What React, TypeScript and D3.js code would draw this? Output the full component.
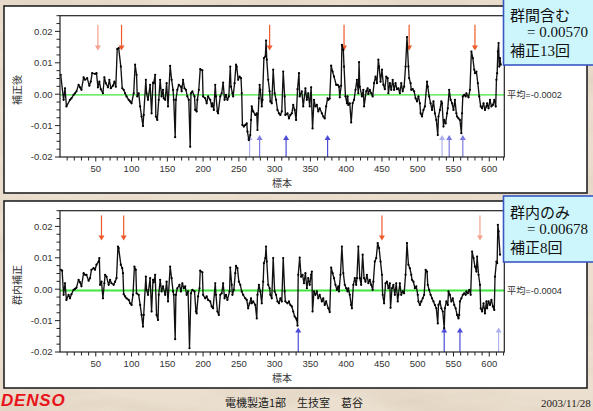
import React from 'react';
import * as d3 from 'd3';

const W = 593;
const H = 411;

// sample number, value in units of 0.001
const topSeries: [number, number][] = [
[1,6.2],[5,-1.8],[7,1.9],[9,-3.9],[14,-1.8],[16,-1.3],[19,-0.2],[21,0.3],[23,0.9],[26,3.0],[28,2.2],[30,1.4],[33,5.4],[35,4.6],[38,5.1],[41,2.7],[43,4.0],[45,6.7],[49,6.5],[51,6.7],[53,2.2],[55,4.0],[57,1.6],[60,0.3],[62,5.4],[64,3.5],[67,2.2],[69,4.6],[71,1.9],[74,2.7],[76,4.0],[78,2.4],[80,14.4],[82,14.7],[85,8.8],[87,1.9],[89,1.4],[91,0.3],[93,-0.7],[96,-1.8],[98,-2.3],[100,-2.9],[103,0.3],[105,9.4],[107,6.2],[108,-0.7],[110,0.3],[112,-3.9],[114,-7.1],[116,-10.1],[117,-6.6],[120,4.6],[121,0.3],[123,-1.8],[126,3.0],[128,-6.1],[130,3.7],[131,3.5],[133,6.2],[134,-7.1],[136,-8.2],[138,-1.8],[140,4.6],[142,-0.7],[144,1.4],[145,-1.3],[147,-1.8],[149,3.5],[151,-3.9],[154,9.0],[156,4.6],[158,1.4],[159,-1.8],[161,-13.7],[162,-1.8],[164,1.4],[166,3.0],[169,2.4],[170,0.9],[172,4.6],[174,1.9],[176,1.4],[178,-0.7],[180,-1.8],[182,-16.7],[183,0.3],[185,0.9],[188,-0.7],[189,-5.0],[191,-5.5],[192,-1.8],[194,1.4],[196,8.0],[199,7.6],[200,-0.7],[203,-1.3],[205,-2.9],[207,-0.7],[210,-1.8],[212,-3.9],[213,-2.9],[215,-5.0],[217,3.0],[218,-0.7],[220,-5.5],[221,-6.1],[224,-0.7],[226,0.3],[228,3.7],[230,-1.8],[232,-0.2],[234,-1.8],[236,-0.7],[238,8.8],[239,2.4],[241,0.3],[242,-0.7],[244,3.5],[246,9.4],[247,8.8],[249,4.6],[251,5.6],[253,5.1],[254,0.3],[255,-9.8],[257,-10.3],[259,-9.8],[261,-9.3],[262,-11.9],[264,-14.6],[266,-13.0],[267,-8.2],[268,-3.9],[270,-5.5],[273,-6.6],[275,-6.1],[276,-11.4],[278,-1.3],[279,3.0],[280,1.4],[282,-3.9],[283,-1.8],[285,11.5],[287,12.0],[288,17.1],[289,11.0],[291,4.6],[293,0.9],[294,-2.3],[296,-2.9],[298,7.8],[300,0.3],[302,-1.8],[304,-5.0],[306,-6.1],[308,-6.6],[310,-5.5],[312,7.2],[314,-0.7],[315,-6.6],[318,-6.1],[320,-7.7],[322,-6.6],[324,-6.1],[326,-3.4],[328,-5.0],[330,-8.2],[332,1.6],[334,6.7],[335,-0.7],[338,0.9],[340,-3.9],[343,1.9],[345,-1.8],[347,0.3],[349,-3.9],[351,2.2],[353,-10.9],[355,-1.8],[357,-3.9],[359,-3.4],[361,-5.5],[363,-4.5],[366,-6.1],[368,-7.1],[370,-7.7],[372,-3.9],[374,-1.3],[375,-1.8],[377,-1.4],[379,9.1],[381,7.2],[383,5.6],[386,3.0],[388,3.0],[390,2.4],[391,-1.0],[393,2.7],[394,15.7],[396,14.1],[397,8.8],[399,-0.7],[401,-2.9],[402,-0.7],[403,-3.4],[405,-2.9],[407,-9.0],[409,-2.9],[411,-1.8],[413,1.4],[415,4.6],[417,0.3],[418,10.2],[419,2.4],[422,-0.7],[424,1.4],[425,-3.9],[428,0.9],[430,1.9],[431,0.1],[433,1.4],[435,0.3],[437,-0.7],[439,3.5],[441,5.6],[443,3.5],[445,11.0],[446,8.8],[448,4.0],[450,7.8],[452,3.0],[454,1.6],[456,5.6],[458,5.1],[459,0.3],[461,3.5],[463,1.4],[465,4.6],[467,1.4],[469,3.5],[471,1.6],[473,1.9],[475,0.3],[477,3.5],[479,0.9],[481,2.4],[483,8.8],[485,18.2],[487,8.8],[488,5.1],[490,3.5],[491,1.4],[493,1.6],[495,0.9],[497,-1.3],[499,-2.3],[501,-0.7],[503,-2.9],[504,-6.1],[506,-7.1],[508,-5.0],[510,-3.9],[513,4.0],[514,2.4],[516,-0.7],[518,-2.9],[520,-5.0],[522,-2.3],[524,-6.1],[526,-8.2],[528,-13.0],[529,-7.1],[531,-5.0],[533,-2.3],[534,-2.9],[536,-10.3],[537,-8.2],[539,-9.3],[541,-6.1],[542,-4.5],[544,1.4],[546,-1.8],[548,-2.9],[550,-5.0],[552,-1.8],[554,-6.1],[555,-7.1],[557,-7.7],[559,-8.2],[561,-12.4],[562,-6.1],[563,-0.7],[565,-0.2],[567,-0.7],[568,0.3],[571,-1.0],[573,1.4],[575,13.6],[577,11.5],[579,7.8],[580,6.7],[582,7.2],[584,3.5],[586,-0.7],[588,-3.9],[590,-4.5],[592,-2.9],[594,-5.0],[596,-3.9],[597,-2.9],[599,-4.5],[601,-1.8],[603,-3.9],[605,-3.4],[607,-1.8],[609,-3.9],[610,4.6],[611,6.7],[612,13.6],[613,16.3],[614,8.8],[615,11.5],[616,9.4]
];

const bottomSeries: [number, number][] = [
[1,6.2],[3,5.9],[5,-1.8],[7,1.9],[9,-3.4],[12,-1.8],[14,-2.9],[16,-1.6],[19,-0.2],[21,0.1],[23,0.5],[26,3.0],[28,2.2],[30,0.9],[33,5.1],[35,4.6],[37,4.6],[40,2.7],[42,3.5],[44,6.2],[47,6.7],[49,6.2],[51,7.8],[54,8.8],[55,9.9],[56,1.4],[58,2.4],[60,-2.9],[62,1.9],[63,4.6],[65,4.0],[68,1.4],[70,3.0],[72,1.9],[75,1.4],[77,2.4],[79,3.5],[81,13.6],[82,13.1],[85,7.8],[87,6.7],[88,5.1],[89,-1.6],[91,-2.3],[93,-2.9],[96,-3.4],[98,-4.5],[100,-5.0],[102,-1.8],[104,7.2],[106,6.2],[107,-1.3],[110,-1.8],[112,-5.0],[114,-8.2],[116,-11.9],[117,-8.2],[120,4.0],[121,-0.2],[123,-1.8],[126,3.5],[128,-7.1],[130,3.0],[131,2.2],[133,4.6],[135,-8.2],[137,-9.8],[138,-1.8],[140,3.0],[142,-0.7],[144,0.9],[147,-1.8],[149,2.4],[151,-3.9],[154,7.2],[156,3.5],[158,-0.7],[159,-1.8],[161,-15.9],[162,-1.8],[164,0.3],[167,1.4],[169,-0.7],[171,1.9],[173,0.3],[175,0.9],[177,-1.8],[179,-0.7],[181,-18.8],[183,-1.3],[185,-0.2],[188,-0.7],[190,-7.1],[191,-7.7],[193,-2.3],[195,0.3],[196,5.9],[199,5.4],[200,-1.8],[203,-2.9],[205,-2.3],[207,-3.4],[210,-3.9],[212,-5.5],[214,-6.1],[217,1.9],[218,-1.8],[220,-7.1],[222,-8.2],[224,-1.8],[226,-1.3],[228,1.9],[230,-2.9],[232,-1.8],[234,-3.4],[237,-0.7],[238,6.9],[240,1.4],[241,-1.8],[243,-0.2],[245,5.1],[246,7.4],[248,6.7],[250,2.4],[252,1.4],[254,-0.7],[256,-1.8],[259,-2.9],[261,-3.4],[263,-6.1],[265,-4.5],[267,-2.9],[268,-4.5],[270,-3.9],[273,-5.0],[275,-9.3],[276,-1.8],[278,1.4],[280,-0.7],[282,-4.5],[284,2.4],[285,8.3],[287,9.9],[288,13.6],[289,8.8],[291,1.4],[293,0.3],[294,-1.8],[296,-2.9],[298,9.9],[300,-0.7],[302,-1.8],[304,-3.9],[306,-4.5],[308,-2.9],[310,-3.9],[312,9.9],[314,-0.7],[315,-3.9],[318,-4.5],[320,-3.9],[322,-5.0],[324,-5.5],[326,-7.1],[328,-8.7],[330,-9.3],[331,-9.8],[332,-11.6],[333,4.6],[335,10.1],[337,4.0],[339,4.6],[341,1.9],[343,5.1],[345,0.3],[347,3.5],[349,1.4],[351,4.6],[352,5.6],[353,-7.1],[355,-0.7],[357,-1.8],[359,-0.7],[361,-2.9],[363,-1.8],[366,-3.9],[368,-2.9],[370,-5.0],[372,-3.9],[375,-6.1],[377,-7.3],[379,6.9],[381,5.1],[383,3.5],[385,1.4],[387,-0.2],[389,0.9],[390,-0.7],[392,4.6],[394,13.6],[396,5.1],[398,1.4],[400,0.3],[402,-0.7],[403,0.3],[405,-1.8],[407,-5.0],[408,-6.1],[410,1.4],[412,3.5],[414,1.4],[415,3.5],[417,13.6],[419,3.5],[421,1.4],[423,11.0],[425,3.5],[427,2.4],[429,4.6],[431,1.9],[433,3.0],[435,1.4],[437,-0.2],[438,2.4],[440,8.8],[442,9.9],[444,14.7],[446,13.1],[448,8.8],[450,4.6],[451,-1.8],[453,-4.5],[455,1.9],[457,2.4],[459,0.3],[461,1.9],[462,-5.9],[464,0.3],[466,1.4],[468,-1.8],[470,1.9],[472,-3.9],[473,-1.8],[475,1.9],[477,-1.8],[479,-0.7],[481,-1.3],[483,4.6],[485,14.7],[487,7.8],[489,6.7],[491,4.6],[492,3.0],[494,2.4],[496,0.3],[498,0.9],[500,-1.8],[501,-3.9],[503,-5.0],[505,-3.9],[507,-2.9],[509,-1.8],[511,6.2],[513,5.6],[514,1.4],[516,-0.2],[518,-1.8],[520,-2.9],[522,-3.9],[524,-5.0],[526,-6.1],[528,-10.9],[529,-5.0],[531,-3.9],[533,-6.1],[535,-7.1],[537,-12.4],[538,-6.1],[540,-3.9],[542,-5.0],[543,-0.7],[545,-1.8],[547,-3.9],[549,-2.9],[551,-5.0],[553,-6.1],[555,-8.2],[557,-9.3],[558,-8.2],[559,-3.9],[561,-2.9],[563,-1.8],[565,-1.3],[567,-1.8],[568,-0.7],[570,-1.3],[572,-0.2],[574,-1.8],[576,12.0],[578,9.9],[580,7.2],[582,5.6],[583,10.4],[585,4.6],[587,1.4],[588,-6.1],[590,-7.1],[592,-4.5],[594,-7.7],[596,-3.9],[597,-6.1],[599,-3.9],[601,-5.0],[603,-3.4],[605,-5.5],[607,-6.6],[608,4.0],[610,8.8],[611,8.3],[612,20.5],[613,18.4],[615,11.0]
];

const xTickLabels = [50, 100, 150, 200, 250, 300, 350, 400, 450, 500, 550, 600];
const yTickValues = [-20, -10, 0, 10, 20];
const yTickLabels = ['-0.02', '-0.01', '0.00', '0.01', '0.02'];

const topMean = -0.2;
const bottomMean = -0.4;
const topMeanLabel = '平均=-0.0002';
const bottomMeanLabel = '平均=-0.0004';

const topRedArrows = [53, 86, 293, 397, 488, 580];
const topRedTone = ['light', 'dark', 'dark', 'dark', 'dark', 'dark'];
const topBlueArrows = [265, 279, 316, 374, 534, 544, 563];
const topBlueTone = ['light', 'mid', 'dark', 'dark', 'light', 'mid', 'mid'];
const bottomRedArrows = [58, 89, 450, 587];
const bottomRedTone = ['dark', 'dark', 'dark', 'light'];
const bottomBlueArrows = [333, 537, 559, 613];
const bottomBlueTone = ['dark', 'dark', 'dark', 'light'];

const topBoxLines = ['群間含む', '= 0.00570', '補正13回'];
const bottomBoxLines = ['群内のみ', '= 0.00678', '補正8回'];

const redColors: Record<string, string> = { light: '#f4a28e', dark: '#f05a2a' };
const blueColors: Record<string, string> = { light: '#aeb2ee', mid: '#7a7ae0', dark: '#4c4cd6' };

const SANS = '"Liberation Sans", Arial, "Noto Sans CJK JP", sans-serif';
const SERIF = '"Liberation Serif", "Times New Roman", "Noto Sans CJK JP", serif';
const CJK = '"Noto Sans CJK JP", "Liberation Sans", sans-serif';

type PanelProps = {
  offsetY: number;
  series: [number, number][];
  mean: number;
  meanLabel: string;
  yLabel: string;
  redArrows: number[];
  redTone: string[];
  blueArrows: number[];
  blueTone: string[];
  redTop: number;
  redTip: number;
  blueTip: number;
};

function Panel(p: PanelProps) {
  const x = d3.scaleLinear().domain([0, 621]).range([60, 504.3]);
  const y = d3.scaleLinear().domain([-20, 25]).range([157 + p.offsetY, 15.7 + p.offsetY]);
  const line = d3.line<[number, number]>().x(d => x(d[0])).y(d => y(d[1]));
  const xMinor = d3.range(10, 621, 10);
  const yMinor = d3.range(-20, 25.1, 2.5);
  const [x0, x1] = x.range();
  const [yb, yt] = y.range();
  const arrowHead = (cx: number, cy: number, dir: number) =>
    `M${cx - 3},${cy - dir * 5}L${cx + 3},${cy - dir * 5}L${cx},${cy}Z`;
  return (
    <g>
      <rect x={4} y={6 + p.offsetY} width={583} height={187} fill="#fff" stroke="#222" strokeWidth={1.6} />
      <line x1={x0} x2={x1} y1={y(p.mean)} y2={y(p.mean)} stroke="#3ee63e" strokeWidth={p.offsetY > 0 ? 2 : 1.3} />
      {p.redArrows.map((s, i) => {
        const c = redColors[p.redTone[i]];
        return (
          <g key={'r' + i}>
            <line x1={x(s)} x2={x(s)} y1={y(p.redTop)} y2={y(p.redTip) - 4} stroke={c} strokeWidth={1.2} />
            <path d={arrowHead(x(s), y(p.redTip), 1)} fill={c} />
          </g>
        );
      })}
      {p.blueArrows.map((s, i) => {
        const c = blueColors[p.blueTone[i]];
        return (
          <g key={'b' + i}>
            <line x1={x(s)} x2={x(s)} y1={yb} y2={y(p.blueTip) + 4} stroke={c} strokeWidth={1.2} />
            <path d={arrowHead(x(s), y(p.blueTip), -1)} fill={c} />
          </g>
        );
      })}
      <path d={line(p.series) || ''} fill="none" stroke="#111" strokeWidth={1.35} strokeLinejoin="round" />
      {p.series.map((d, i) => (
        <circle key={i} cx={x(d[0])} cy={y(d[1])} r={1.1} fill="#000" />
      ))}
      <rect x={x0} y={yt} width={x1 - x0} height={yb - yt} fill="none" stroke="#222" strokeWidth={1.2} />
      {yMinor.map((v, i) => {
        const major = yTickValues.indexOf(v) >= 0;
        return <line key={'ym' + i} x1={x0} x2={x0 - (major ? 5 : 3.5)} y1={y(v)} y2={y(v)} stroke="#222" strokeWidth={1} />;
      })}
      {yTickValues.map((v, i) => (
        <text key={'yl' + i} x={52.5} y={y(v)} dy="0.35em" textAnchor="end" fontFamily={SANS} fontSize={9.5} fill="#333">
          {yTickLabels[i]}
        </text>
      ))}
      {xMinor.map((v, i) => (
        <line key={'xm' + i} x1={x(v)} x2={x(v)} y1={yb} y2={yb + (v % 50 === 0 ? 4.5 : 3.5)} stroke="#222" strokeWidth={1} />
      ))}
      {xTickLabels.map((v, i) => (
        <text key={'xl' + i} x={x(v)} y={yb + 14.5} textAnchor="middle" fontFamily={SANS} fontSize={9.5} fill="#333">
          {v}
        </text>
      ))}
      <text x={282} y={187 + p.offsetY} textAnchor="middle" fontFamily={CJK} fontSize={10} fill="#333">標本</text>
      <text transform={`translate(21,${90 + p.offsetY}) rotate(-90)`} textAnchor="middle" fontFamily={CJK} fontSize={10} fill="#333">
        {p.yLabel}
      </text>
      <text x={507} y={y(p.mean)} dy="0.35em" fontFamily={SANS} fontSize={9.2} fill="#333">{p.meanLabel}</text>
    </g>
  );
}

function InfoBox({ top, lines }: { top: number; lines: string[] }) {
  return (
    <g>
      <rect x={503.5} y={top} width={95} height={66} fill="#ccf6fc" stroke="#3a58c4" strokeWidth={1.6} />
      <text x={510} y={top + 22} fontFamily={CJK} fontSize={15} fill="#111">{lines[0]}</text>
      <text x={527} y={top + 38} fontFamily={SERIF} fontSize={15} fill="#111">{lines[1]}</text>
      <text x={510} y={top + 57} fontFamily={SERIF} fontSize={15} fill="#111">{lines[2]}</text>
    </g>
  );
}

export default function App() {
  return (
    <svg width={W} height={H} style={{ position: 'absolute', left: 0, top: 0 }} xmlns="http://www.w3.org/2000/svg">
      <defs>
        <filter id="marble" x="0" y="0" width="100%" height="100%">
          <feTurbulence type="fractalNoise" baseFrequency="0.008 0.03" numOctaves={4} seed={7} />
          <feColorMatrix type="matrix" values="0 0 0 0 0.55  0 0 0 0 0.45  0 0 0 0 0.33  1.6 0 0 0 -0.6" />
        </filter>
      </defs>
      <rect x={0} y={0} width={W} height={H} fill="#ebdfcf" />
      <rect x={0} y={0} width={W} height={H} filter="url(#marble)" opacity={0.35} />
      <Panel
        offsetY={0}
        series={topSeries}
        mean={topMean}
        meanLabel={topMeanLabel}
        yLabel="補正後"
        redArrows={topRedArrows}
        redTone={topRedTone}
        blueArrows={topBlueArrows}
        blueTone={topBlueTone}
        redTop={22.1}
        redTip={13.9}
        blueTip={-13.0}
      />
      <Panel
        offsetY={195}
        series={bottomSeries}
        mean={bottomMean}
        meanLabel={bottomMeanLabel}
        yLabel="群内補正"
        redArrows={bottomRedArrows}
        redTone={bottomRedTone}
        blueArrows={bottomBlueArrows}
        blueTone={bottomBlueTone}
        redTop={23.5}
        redTip={15.5}
        blueTip={-12.2}
      />
      <InfoBox top={-1} lines={topBoxLines} />
      <InfoBox top={196} lines={bottomBoxLines} />
      <text x={1} y={406} fontFamily={SANS} fontSize={17} fontWeight="bold" fontStyle="italic" fill="#e8141c" letterSpacing={0.8}>DENSO</text>
      <text x={225} y={407} fontFamily={CJK} fontSize={11} fill="#222">電機製造1部　生技室　葛谷</text>
      <text x={541} y={407} fontFamily={SERIF} fontSize={11} fill="#222">2003/11/28</text>
    </svg>
  );
}
